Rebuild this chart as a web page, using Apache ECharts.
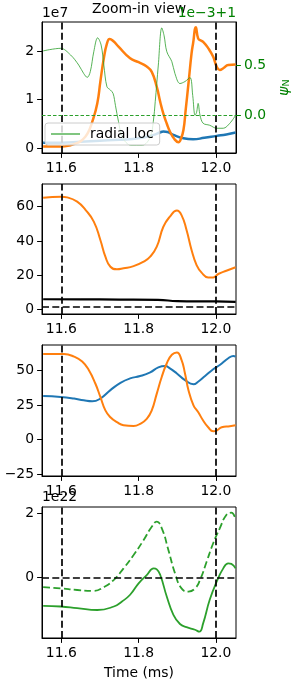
<!DOCTYPE html>
<html><head><meta charset="utf-8">
<script src="https://cdn.jsdelivr.net/npm/echarts@6/dist/echarts.min.js"></script>
<style>html,body{margin:0;padding:0;background:#fff}#c{width:291px;height:684px}</style>
</head><body><div id="c"></div>
<script>
// ---------- data ----------
const xTicks = [11.6, 11.8, 12.0];
const eventTimes = [11.6, 12.0];

// panel 1 (left axis, x1e7)
const p1OrangeT = [11.553, 11.58, 11.60, 11.62, 11.64, 11.655, 11.668, 11.68, 11.693, 11.701, 11.71, 11.718, 11.725, 11.735, 11.748, 11.778, 11.80, 11.821, 11.834, 11.847, 11.856, 11.864, 11.873, 11.881, 11.893, 11.903, 11.91, 11.916, 11.922, 11.929, 11.937, 11.941, 11.948, 11.954, 11.96, 11.967, 11.98, 11.993, 12.002, 12.01, 12.02, 12.032, 12.051];
const p1OrangeV = [0.03, 0.03, 0.03, 0.05, 0.1, 0.17, 0.3, 0.54, 0.92, 1.37, 1.85, 2.15, 2.25, 2.2, 2.09, 1.85, 1.77, 1.68, 1.57, 1.26, 0.95, 0.71, 0.5, 0.34, 0.18, 0.12, 0.2, 0.37, 0.8, 1.33, 1.95, 2.16, 2.49, 2.26, 2.22, 2.19, 2.06, 1.88, 1.68, 1.61, 1.65, 1.71, 1.72];
const p1BlueT = [11.553, 11.6, 11.65, 11.7, 11.75, 11.8, 11.839, 11.855, 11.864, 11.875, 11.89, 11.916, 11.941, 11.97, 12.002, 12.027, 12.051];
const p1BlueV = [0.11, 0.11, 0.13, 0.15, 0.17, 0.2, 0.27, 0.32, 0.34, 0.33, 0.27, 0.2, 0.18, 0.21, 0.25, 0.28, 0.32];
// panel 1 (right axis, psi_N: 1e-3 units, offset +1)
const psiT = [11.553, 11.598, 11.624, 11.645, 11.658, 11.667, 11.675, 11.684, 11.694, 11.703, 11.71, 11.718, 11.727, 11.734, 11.74, 11.748, 11.758, 11.78, 11.81, 11.83, 11.838, 11.843, 11.851, 11.86, 11.866, 11.873, 11.886, 11.894, 11.907, 11.92, 11.933, 11.94, 11.946, 11.95, 11.954, 11.959, 11.967, 11.984, 12.002, 12.019, 12.036, 12.051];
const psiV = [0.648, 0.674, 0.607, 0.506, 0.42, 0.382, 0.44, 0.64, 0.78, 0.707, 0.506, 0.288, 0.255, 0.22, 0.10, -0.064, -0.22, -0.3, -0.3, -0.22, -0.064, 0.137, 0.506, 0.88, 0.8, 0.64, 0.54, 0.42, 0.32, 0.34, 0.38, 0.2, 0.0, 0.03, 0.12, 0.0, -0.08, -0.1, -0.13, -0.13, -0.08, 0.0];
const psiRef = 0.0;

// panel 2
const p2OrangeT = [11.553, 11.6, 11.615, 11.641, 11.663, 11.684, 11.701, 11.714, 11.727, 11.744, 11.761, 11.787, 11.813, 11.83, 11.847, 11.864, 11.881, 11.899, 11.911, 11.924, 11.937, 11.95, 11.963, 11.98, 11.993, 12.006, 12.027, 12.051];
const p2OrangeV = [65.2, 65.8, 65.4, 62.9, 58, 51.3, 40.6, 30.9, 25, 23.5, 24.1, 25.4, 28, 30.9, 36.7, 48.3, 54.2, 57.7, 55.1, 46.4, 34.8, 26, 21.6, 18.8, 18.8, 20.8, 22.7, 24.7];
const p2BlackT = [11.553, 11.65, 11.75, 11.85, 11.9, 11.95, 12.0, 12.051];
const p2BlackV = [6.1, 6.0, 5.9, 5.7, 5.0, 4.8, 4.8, 4.6];
const p2Ref = 2.0;

// panel 3
const p3OrangeT = [11.553, 11.607, 11.633, 11.654, 11.671, 11.688, 11.701, 11.714, 11.727, 11.744, 11.761, 11.787, 11.804, 11.821, 11.834, 11.847, 11.86, 11.873, 11.886, 11.899, 11.911, 11.92, 11.929, 11.942, 11.954, 11.967, 11.98, 11.993, 12.002, 12.015, 12.036, 12.051];
const p3OrangeV = [62, 62, 60.2, 56.6, 50.5, 40.7, 31, 21.2, 16.3, 12.7, 10.5, 10, 11.5, 15.1, 21.2, 33.4, 45.6, 55.4, 61.5, 63.2, 57.8, 48, 35.9, 24.9, 20, 13.9, 9, 6.1, 6.6, 9, 9.8, 10.5];
const p3BlueT = [11.553, 11.598, 11.633, 11.658, 11.68, 11.701, 11.727, 11.753, 11.778, 11.804, 11.83, 11.851, 11.869, 11.881, 11.899, 11.92, 11.942, 11.954, 11.972, 11.993, 12.01, 12.032, 12.045, 12.051];
const p3BlueV = [31.7, 31, 29.8, 28.5, 27.8, 29.8, 35.9, 41.2, 44.4, 46.1, 48.8, 52.4, 53.4, 51.7, 48, 43.2, 40.2, 42, 46.1, 51, 54.1, 59, 60.7, 60.2];

// panel 4 (x1e22)
const p4DashT = [11.553, 11.598, 11.641, 11.684, 11.71, 11.736, 11.761, 11.787, 11.813, 11.834, 11.847, 11.86, 11.877, 11.894, 11.911, 11.929, 11.946, 11.959, 11.976, 11.993, 12.01, 12.027, 12.04, 12.051];
const p4DashV = [-0.31, -0.35, -0.4, -0.43, -0.31, -0.08, 0.28, 0.7, 1.17, 1.59, 1.75, 1.54, 0.86, 0.13, -0.35, -0.45, -0.35, -0.08, 0.49, 1.07, 1.54, 1.96, 2.03, 1.82];
const p4SolidT = [11.553, 11.598, 11.641, 11.693, 11.736, 11.757, 11.778, 11.8, 11.821, 11.839, 11.847, 11.856, 11.873, 11.89, 11.907, 11.924, 11.946, 11.957, 11.967, 11.984, 12.002, 12.019, 12.032, 12.04, 12.051];
const p4SolidV = [-0.9, -0.92, -0.97, -1.03, -0.92, -0.76, -0.55, -0.19, 0.07, 0.28, 0.25, 0.07, -0.61, -1.18, -1.47, -1.57, -1.65, -1.71, -1.45, -0.71, -0.14, 0.28, 0.44, 0.42, 0.28];
const p4Ref = 0.0;

const yTicks1L = [0, 1, 2];
const yTicks1R = [0.0, 0.5];
const yTicks2 = [0, 20, 40, 60];
const yTicks3 = [-25, 0, 25, 50];
const yTicks4 = [0, 2];

// ---------- chart ----------
const FONT = 'DejaVu Sans';
const FS = 13.9;
const BLUE = '#1f77b4', ORANGE = '#ff7f0e', GREEN = '#2ca02c', DKGREEN = '#008000';
const zip = (t, v) => t.map((x, i) => [x, v[i]]);
const minus = s => String(s).replace('-', '\u2212');

const grids = [
  {left: 42, top: 22, width: 194, height: 131},
  {left: 42, top: 184, width: 194, height: 130},
  {left: 42, top: 345, width: 194, height: 131},
  {left: 42, top: 507, width: 194, height: 131}
].map(g => Object.assign({show: true, borderColor: '#000', borderWidth: 1, backgroundColor: 'transparent'}, g));

function xAx(i) {
  return {
    type: 'value', gridIndex: i, min: 11.55, max: 12.052,
    axisLine: {show: true, onZero: false, lineStyle: {color: '#000', width: 1}},
    axisTick: {show: true, length: 4.9, customValues: xTicks, lineStyle: {color: '#000', width: 1}},
    axisLabel: {show: true, customValues: xTicks, margin: 8, color: '#000', fontFamily: FONT, fontSize: FS,
      formatter: v => v.toFixed(1)},
    splitLine: {show: false}
  };
}
function yAx(i, min, max, ticks, fmt, pos, color) {
  return {
    type: 'value', gridIndex: i, min: min, max: max, position: pos || 'left',
    axisLine: {show: true, onZero: false, lineStyle: {color: '#000', width: 1}},
    axisTick: {show: true, length: 4.9, customValues: ticks, lineStyle: {color: color || '#000', width: 1}},
    axisLabel: {show: true, customValues: ticks, margin: 8, color: color || '#000', fontFamily: FONT, fontSize: FS,
      formatter: fmt},
    splitLine: {show: false}
  };
}
const intFmt = v => minus(Math.round(v));
const oneFmt = v => minus(v.toFixed(1));

function marks(extra) {
  const data = eventTimes.map(t => ({xAxis: t}));
  return {
    silent: true, symbol: ['none', 'none'], label: {show: false}, animation: false,
    lineStyle: {color: '#000', width: 1.7, type: [7, 3.3]},
    emphasis: {disabled: true},
    data: data.concat(extra || [])
  };
}

function line(name, xi, yi, t, v, color, width, extra) {
  return Object.assign({
    name: name, type: 'line', xAxisIndex: xi, yAxisIndex: yi, data: zip(t, v),
    showSymbol: false, symbol: 'none', smooth: 0.5,
    lineStyle: {color: color, width: width}, itemStyle: {color: color},
    animation: false, silent: true, emphasis: {disabled: true}
  }, extra || {});
}

const psiRefStyle = {color: GREEN, width: 1, type: [3.5, 2], opacity: 1};

const option = {
  backgroundColor: '#fff',
  animation: false,
  grid: grids,
  xAxis: [xAx(0), xAx(1), xAx(2), xAx(3)],
  yAxis: [
    yAx(0, -0.103, 2.598, yTicks1L, intFmt),
    yAx(0, -0.379, 0.939, yTicks1R, oneFmt, 'right', DKGREEN),
    yAx(1, -2.5, 73.2, yTicks2, intFmt),
    yAx(2, -26.3, 68.6, yTicks3, intFmt),
    yAx(3, -1.91, 2.21, yTicks4, intFmt)
  ],
  legend: {
    show: true, data: ['radial loc'], left: 45, top: 123, orient: 'vertical',
    icon: 'rect', itemWidth: 29, itemHeight: 1.2,
    backgroundColor: 'rgba(255,255,255,0.8)', borderColor: '#cccccc', borderWidth: 1, borderRadius: 3,
    padding: [4, 6, 4, 6],
    textStyle: {color: '#000', fontFamily: FONT, fontSize: FS, padding: [0, 0, 0, 5]},
    selectedMode: false, z: 10
  },
  series: [
    line('blue1', 0, 0, p1BlueT, p1BlueV, BLUE, 2.5),
    line('orange1', 0, 0, p1OrangeT, p1OrangeV, ORANGE, 2.5, {markLine: marks()}),
    line('radial loc', 0, 1, psiT, psiV, GREEN, 0.8, {smooth: 0.35, markLine: {
      silent: true, symbol: ['none', 'none'], label: {show: false}, animation: false,
      emphasis: {disabled: true},
      data: [{yAxis: psiRef, lineStyle: psiRefStyle}], lineStyle: psiRefStyle}}),
    line('orange2', 1, 2, p2OrangeT, p2OrangeV, ORANGE, 2),
    line('black2', 1, 2, p2BlackT, p2BlackV, '#000', 2.2, {markLine: marks([{yAxis: p2Ref}])}),
    line('blue3', 2, 3, p3BlueT, p3BlueV, BLUE, 2),
    line('orange3', 2, 3, p3OrangeT, p3OrangeV, ORANGE, 2, {markLine: marks()}),
    line('dash4', 3, 4, p4DashT, p4DashV, GREEN, 1.8, {lineStyle: {color: GREEN, width: 1.8, type: [7, 3.3]}}),
    line('solid4', 3, 4, p4SolidT, p4SolidV, GREEN, 1.8, {markLine: marks([{yAxis: p4Ref}])})
  ],
  graphic: [
    {type: 'text', x: 139, y: 9, style: {text: 'Zoom-in view', fill: '#000', font: FS + 'px "' + FONT + '"', align: 'center', verticalAlign: 'middle'}},
    {type: 'text', x: 42, y: 13.5, style: {text: '1e7', fill: '#000', font: FS + 'px "' + FONT + '"', align: 'left', verticalAlign: 'middle'}},
    {type: 'text', x: 236, y: 13.5, style: {text: '1e\u22123+1', fill: DKGREEN, font: FS + 'px "' + FONT + '"', align: 'right', verticalAlign: 'middle'}},
    {type: 'text', x: 42, y: 497, style: {text: '1e22', fill: '#000', font: FS + 'px "' + FONT + '"', align: 'left', verticalAlign: 'middle'}},
    {type: 'text', x: 284, y: 87.5, rotation: Math.PI / 2, style: {
      text: '{a|\u03c8}{b|N}', align: 'center', verticalAlign: 'middle', fill: DKGREEN,
      rich: {a: {fontFamily: FONT, fontSize: FS, fontStyle: 'italic', fill: DKGREEN, color: DKGREEN},
             b: {fontFamily: FONT, fontSize: 9.5, fill: DKGREEN, color: DKGREEN, padding: [6, 0, 0, 0]}}}},
    {type: 'text', x: 139, y: 673, style: {text: 'Time (ms)', fill: '#000', font: FS + 'px "' + FONT + '"', align: 'center', verticalAlign: 'middle'}}
  ]
};
const chart = echarts.init(document.getElementById('c'), null, {renderer: 'canvas', width: 291, height: 684});
chart.setOption(option);
</script></body></html>
